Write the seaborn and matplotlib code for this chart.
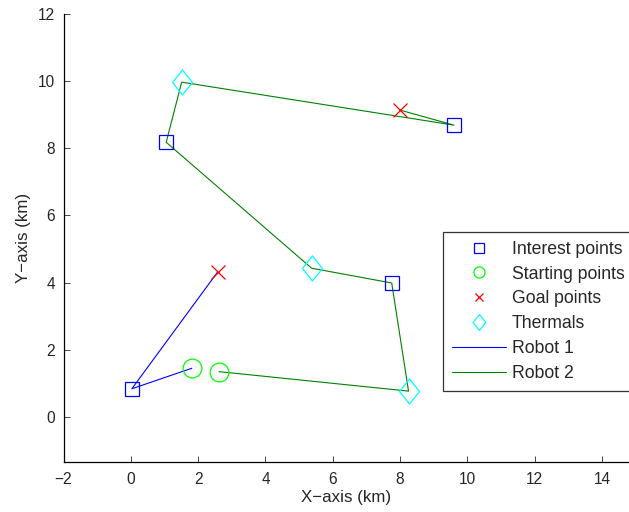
import matplotlib
matplotlib.use("Agg")
import matplotlib.pyplot as plt
from matplotlib.path import Path
from matplotlib.lines import Line2D
import seaborn as sns
import numpy as np

# ---- data (km) ----
interest_x = [0.03, 1.05, 7.75, 9.60]
interest_y = [0.84, 8.18, 3.99, 8.69]

start_x = [1.81, 2.62]
start_y = [1.45, 1.35]

goal_x = [2.58, 7.99]
goal_y = [4.32, 9.14]

thermal_x = [1.51, 5.37, 8.25]
thermal_y = [9.97, 4.43, 0.77]

robot1_x = [1.81, 0.03, 2.58]
robot1_y = [1.45, 0.84, 4.32]

robot2_x = [2.62, 8.25, 7.75, 5.37, 1.05, 1.51, 9.60, 7.99]
robot2_y = [1.35, 0.77, 3.99, 4.43, 8.18, 9.97, 8.69, 9.14]

xticks = [-2, 0, 2, 4, 6, 8, 10, 12, 14]
yticks = [0, 2, 4, 6, 8, 10, 12]

sns.set_style("white")
plt.rcParams["font.family"] = ["Liberation Sans", "DejaVu Sans"]
plt.rcParams["font.size"] = 11

fig = plt.figure(figsize=(6.29, 5.12), dpi=100)
ax = fig.add_axes([0.101, 0.0977, 0.899, 0.875])

diamond = Path([(0, 1), (0.8, 0), (0, -1), (-0.8, 0), (0, 1)],
               [Path.MOVETO, Path.LINETO, Path.LINETO, Path.LINETO, Path.CLOSEPOLY])

# paths
sns.lineplot(x=robot1_x, y=robot1_y, sort=False, estimator=None, ax=ax,
             color=(0, 0, 1), lw=0.8)
sns.lineplot(x=robot2_x, y=robot2_y, sort=False, estimator=None, ax=ax,
             color=(0, 0.5, 0), lw=0.8)

# markers
def pts(x, y, marker, ms, col):
    sns.lineplot(x=x, y=y, sort=False, estimator=None, ax=ax,
                 linestyle="none", marker=marker, markersize=ms,
                 markerfacecolor="none", markeredgecolor=col,
                 markeredgewidth=0.9, color=col)

pts(interest_x, interest_y, "s", 10.5, (0, 0, 1))
pts(start_x, start_y, "o", 13.5, (0, 1, 0))
pts(goal_x, goal_y, "x", 9.5, (1, 0, 0))
pts(thermal_x, thermal_y, diamond, 18, (0, 1, 1))

ax.set_xlim(-2, 14.8)
ax.set_ylim(-1.34, 12)
ax.set_xticks(xticks)
ax.set_yticks(yticks)
ax.tick_params(axis="x", direction="in", length=4, width=0.6, labelsize=11.2,
               pad=7.5, bottom=True)
ax.tick_params(axis="y", direction="in", length=4, width=0.6, labelsize=11.2,
               pad=6, left=True)
for s in ["top", "right"]:
    ax.spines[s].set_visible(False)
for s in ["left", "bottom"]:
    ax.spines[s].set_linewidth(0.9)
    ax.spines[s].set_color("black")

ax.set_xlabel("X\u2212axis (km)", fontsize=12.2, labelpad=2)
ax.set_ylabel("Y\u2212axis (km)", fontsize=12.2, labelpad=5)

handles = [
    Line2D([], [], ls="none", marker="s", ms=6.5, mfc="none", mec=(0, 0, 1), mew=0.9),
    Line2D([], [], ls="none", marker="o", ms=8, mfc="none", mec=(0, 1, 0), mew=0.9),
    Line2D([], [], ls="none", marker="x", ms=5.5, mfc="none", mec=(1, 0, 0), mew=0.9),
    Line2D([], [], ls="none", marker=diamond, ms=11.5, mfc="none", mec=(0, 1, 1), mew=0.9),
    Line2D([], [], color=(0, 0, 1), lw=0.8),
    Line2D([], [], color=(0, 0.5, 0), lw=0.8),
]
labels = ["Interest points", "Starting points", "Goal points", "Thermals",
          "Robot 1", "Robot 2"]
leg = ax.legend(handles, labels, loc="upper left",
                bbox_to_anchor=(0.704, 0.547), bbox_transform=fig.transFigure,
                frameon=True, fancybox=False, shadow=False, fontsize=12.7,
                handlelength=3.07, handletextpad=0.34, labelspacing=0.445,
                borderpad=0.5, borderaxespad=0)
leg.get_frame().set_edgecolor("black")
leg.get_frame().set_linewidth(0.9)

fig.savefig("out.png", dpi=100)
